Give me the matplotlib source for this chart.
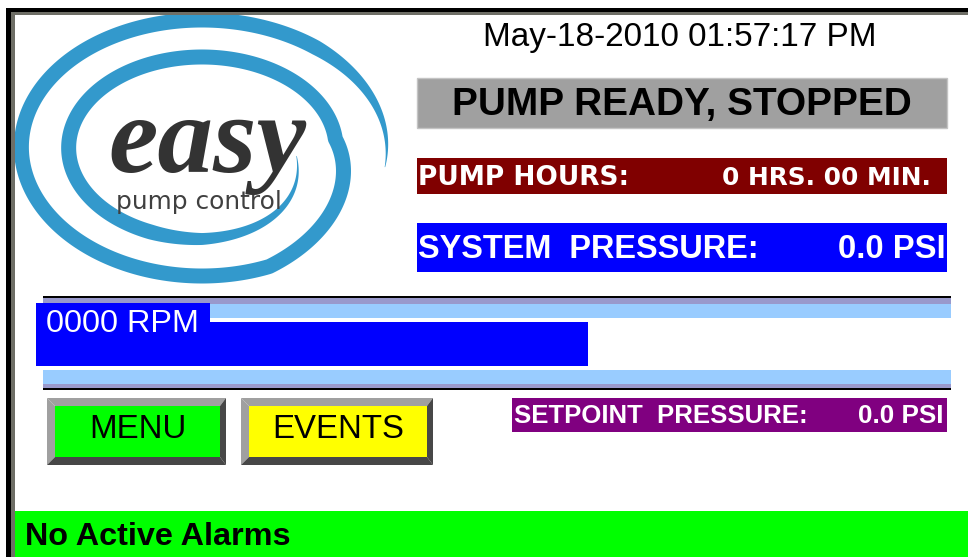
import numpy as np
import matplotlib
matplotlib.use("Agg")
import matplotlib.pyplot as plt
from matplotlib.patches import Rectangle, Polygon

# ---------------- data (values shown on the HMI screen) ----------------
timestamp = "May-18-2010 01:57:17 PM"
status_text = "PUMP READY, STOPPED"
pump_hours = [0, 0]                  # hours, minutes
system_pressure = [0.0]              # PSI
setpoint_pressure = [0.0]            # PSI
rpm_value = [0]
rpm_bar_level = [0.603]              # fraction of gauge filled (as drawn)
panel_labels = ["PUMP HOURS:", "SYSTEM  PRESSURE:", "SETPOINT  PRESSURE:"]
button_labels = ["MENU", "EVENTS"]
alarm_text = "No Active Alarms"
logo_words = ["easy", "pump control"]

W, H = 968, 557
fig = plt.figure(figsize=(W / 100, H / 100), dpi=100)
fig.patch.set_facecolor("white")
ax = fig.add_axes([0, 0, 1, 1])
ax.set_xlim(0, W)
ax.set_ylim(H, 0)
ax.axis("off")
ax.set_zorder(2)
renderer = fig.canvas.get_renderer()


def rect(x0, y0, x1, y1, color, ec="none", lw=0, z=1):
    ax.add_patch(Rectangle((x0, y0), x1 - x0, y1 - y0, facecolor=color,
                           edgecolor=ec, linewidth=lw, zorder=z))


def fit_text(s, x0, x1, base, color, family, weight="normal", style="normal",
             z=5):
    t = ax.text(x0, base, s, ha="left", va="baseline", fontsize=20,
                family=family, weight=weight, style=style, color=color,
                zorder=z)
    w = t.get_window_extent(renderer).width
    t.set_fontsize(20 * (x1 - x0) / w)
    return t


# ---------------- frame ----------------
rect(6, 8, 11, H, "black", z=10)
rect(11, 12, 15, H, "#6e6e66", z=10)
rect(6, 8, W, 11.5, "black", z=10)
rect(11, 11.5, W, 15, "#6e6e66", z=10)

# ---------------- logo swirl ----------------
cx, cy = 202, 148
th = np.linspace(-0.15, 4 * np.pi - 0.1, 1500)
k_th = [-0.15, 5.1, 2 * np.pi + 0.1, 2 * np.pi + 1.5 * np.pi, 4 * np.pi - 0.1]
k_rx = [185, 178, 134, 133, 95]
k_ry = [128, 128, 91, 91, 80]
rx = np.interp(th, k_th, k_rx)
ry = np.interp(th, k_th, k_ry)
w_th = [-0.15, 0.9, 10.6, 4 * np.pi - 0.1]
w_v = [0.5, 15, 15, 0.5]
wd = np.interp(th, w_th, w_v)
px = cx + rx * np.cos(th)
py = cy - ry * np.sin(th)
dx = np.gradient(px)
dy = np.gradient(py)
nrm = np.hypot(dx, dy)
nx, ny = -dy / nrm, dx / nrm
left = np.column_stack([px + nx * wd / 2, py + ny * wd / 2])
right = np.column_stack([px - nx * wd / 2, py - ny * wd / 2])
ax.add_patch(Polygon(np.vstack([left, right[::-1]]), closed=True,
                     facecolor="#3399cc", edgecolor="none", zorder=2))

fit_text(logo_words[0], 108, 306, 172, "#333333", "Liberation Serif",
         weight="bold", style="italic", z=3)
fit_text(logo_words[1], 116, 282, 209, "#404040", "DejaVu Sans", z=3)

# ---------------- date / status ----------------
fit_text(timestamp, 483, 876, 46, "black", "Liberation Sans")
rect(417, 78, 947, 128, "#a0a0a0", ec="#c4c4c4", lw=1)
fit_text(status_text, 452, 911, 115, "black", "Liberation Sans", weight="bold")

# pump hours
rect(417, 158, 947, 194, "#800000")
fit_text(panel_labels[0], 418, 629, 185, "white", "DejaVu Sans", weight="bold")
fit_text(f"{pump_hours[0]} HRS. {pump_hours[1]:02d} MIN.", 722, 931, 185,
         "white", "DejaVu Sans", weight="bold")

# system pressure
rect(417, 223, 947, 272, "#0000ff")
fit_text(panel_labels[1], 418, 760, 258, "white", "Liberation Sans", weight="bold")
fit_text(f"{system_pressure[0]:.1f} PSI", 838, 946, 258, "white",
         "Liberation Sans", weight="bold")

# ---------------- RPM gauge ----------------
rect(43, 295.5, 951, 297.5, "black")
rect(43, 297.5, 951, 304, "#9999cc")
rect(210, 304, 951, 318, "#99ccff")
rect(43, 370, 951, 384, "#99ccff")
rect(43, 384, 951, 387.5, "#9999cc")
rect(43, 387.5, 951, 389.5, "black")
rect(36, 303, 210, 322.5, "#0000ff", z=3)

gx0, gx1, gy0, gy1 = 36, 951, 322, 366
axg = fig.add_axes([gx0 / W, 1 - gy1 / H, (gx1 - gx0) / W, (gy1 - gy0) / H])
axg.set_zorder(1)
axg.set_xlim(0, 1)
axg.set_ylim(-0.5, 0.5)
axg.barh([0], rpm_bar_level, height=1, left=0, color="#0000ff")
axg.axis("off")

fit_text(f"{rpm_value[0]:04d} RPM", 46, 199, 332, "white", "Liberation Sans", z=6)

# ---------------- buttons ----------------
btn_face = ["#00ff00", "#ffff00"]
btn_box = [(47, 226), (241, 433)]
by0, by1, bev = 398, 465, 8
for (x0, x1), fc, lab in zip(btn_box, btn_face, button_labels):
    ax.add_patch(Polygon([(x0, by0), (x1, by0), (x1 - bev + 2, by0 + bev), (x0 + bev, by0 + bev)],
                         facecolor="#a0a0a0", edgecolor="none"))
    ax.add_patch(Polygon([(x0, by0), (x0 + bev, by0 + bev), (x0 + bev, by1 - bev), (x0, by1)],
                         facecolor="#a0a0a0", edgecolor="none"))
    ax.add_patch(Polygon([(x1, by0), (x1, by1), (x1 - bev + 2, by1 - bev), (x1 - bev + 2, by0 + bev)],
                         facecolor="#474747", edgecolor="none"))
    ax.add_patch(Polygon([(x0, by1), (x1, by1), (x1 - bev + 2, by1 - bev), (x0 + bev, by1 - bev)],
                         facecolor="#474747", edgecolor="none"))
    rect(x0 + bev, by0 + bev, x1 - bev + 2, by1 - bev, fc, z=2)
    ax.text((x0 + x1) / 2 + 1, 437.5, lab, ha="center", va="baseline",
            fontsize=33 * 0.72, family="Liberation Sans", color="black", zorder=5)

# setpoint
rect(512, 398, 947, 432, "#800080")
fit_text(panel_labels[2], 514, 807, 423, "white", "Liberation Sans", weight="bold")
fit_text(f"{setpoint_pressure[0]:.1f} PSI", 858, 944, 423, "white",
         "Liberation Sans", weight="bold")

# ---------------- alarm bar ----------------
rect(15, 511, W, H, "#00ff00", z=9)
fit_text(alarm_text, 25, 290, 545, "black", "Liberation Sans", weight="bold", z=11)

fig.savefig("out.png", dpi=100, facecolor="white")
